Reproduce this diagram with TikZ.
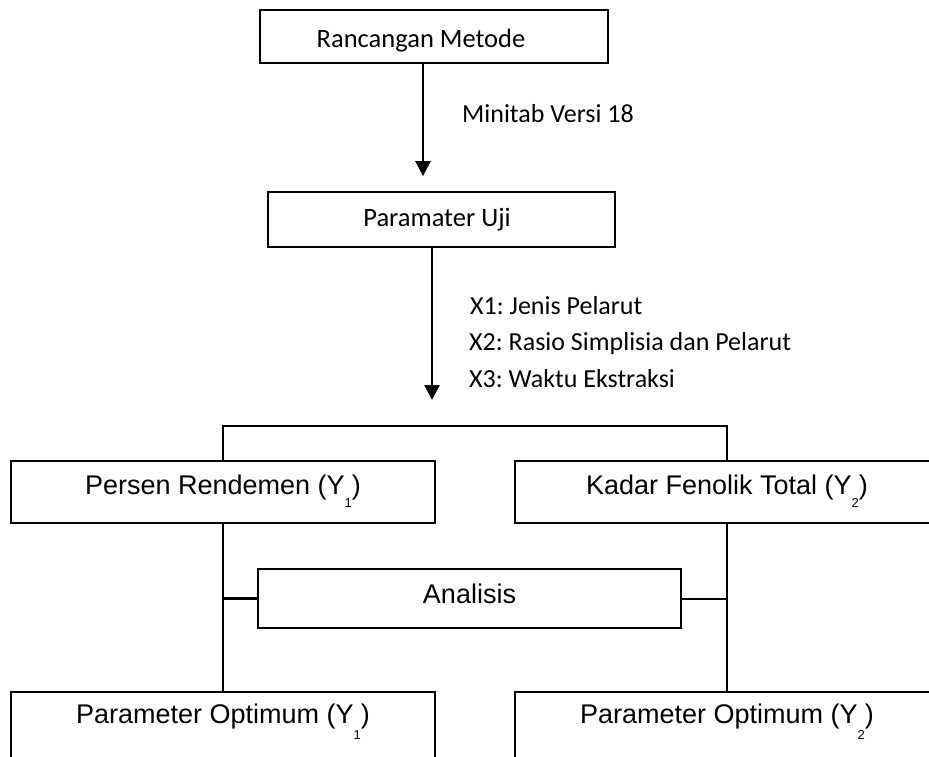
\documentclass[tikz,border=0pt]{standalone}
\usepackage{fontspec}
\setmainfont{Liberation Sans}
\newfontfamily\calibrifont{Carlito}
\usetikzlibrary{arrows.meta}
\frenchspacing
\newcommand{\ysub}[2][13pt]{\raisebox{-#1}{\fontsize{13}{13}\selectfont #2}}
\tikzset{
  boxa/.style={draw, line width=1.8pt, inner sep=0pt, font=\calibrifont\fontsize{26.5}{30}\selectfont},
  boxb/.style={draw, line width=1.8pt, inner sep=0pt, font=\fontsize{27}{30}\selectfont},
  lbl/.style={anchor=base west, inner sep=0pt, font=\calibrifont\fontsize{26}{30}\selectfont},
  arr/.style={line width=2.5pt, -{Triangle[length=15pt,width=15pt]}},
  conn/.style={line width=2pt},
  stub/.style={line width=3pt},
}
\begin{document}
\frenchspacing
\begin{tikzpicture}[x=1pt,y=-1pt]
\useasboundingbox (0,0) rectangle (929,756);
\clip (0,0) rectangle (929,756);

% boxes
\node[boxa, minimum width=348pt, minimum height=53pt, text height=24pt, text depth=3pt] (rm) at (434,36.5) {\hspace*{-26pt}Rancangan Metode};
\node[boxa, minimum width=347pt, minimum height=55pt, text height=18pt, text depth=4pt] (pu) at (441.5,219.5) {\hspace*{-9pt}Paramater Uji};

\node[boxb, minimum width=424pt, minimum height=62pt, text height=20pt, text depth=16pt] (pr) at (223,492) {Persen Rendemen (Y\ysub{1})};
\node[boxb, minimum width=424pt, minimum height=62pt, text height=20pt, text depth=16pt] (kf) at (727,492) {Kadar Fenolik Total (Y\ysub{2})};
\node[boxb, minimum width=423pt, minimum height=59pt, text height=18pt, text depth=9pt] (an) at (469.5,598.5) {Analisis};
\node[boxb, minimum width=424pt, minimum height=80pt, text height=20pt, text depth=38pt] (pb) at (223,732) {Parameter Optimum (Y\ysub[16pt]{1})};
\node[boxb, minimum width=424pt, minimum height=80pt, text height=20pt, text depth=38pt] (kb) at (727,732) {Parameter Optimum (Y\ysub[16pt]{2})};

% labels
\node[lbl] (m18) at (462,122) {Minitab Versi 18};
\node[lbl] (x1) at (470,314) {X1: Jenis Pelarut};
\node[lbl] (x2) at (469,350) {X2: Rasio Simplisia dan Pelarut};
\node[lbl] (x3) at (469,387) {X3: Waktu Ekstraksi};

% arrows
\coordinate (c1) at (423,0);
\coordinate (t2) at (432,400);
\coordinate (br) at (0,426);
\draw[arr] (rm.south -| c1) -- ([yshift=15pt]pu.north -| c1);
\draw[arr] (pu.south -| t2) -- (t2);

% connectors
\draw[conn] (pr.north) -- (pr.north |- br) -- (kf.north |- br) -- (kf.north);
\draw[conn] (pr.south) -- (pb.north);
\draw[conn] (kf.south) -- (kb.north);
\draw[stub] (an.west) -- (an.west -| pr.south);
\draw[conn] (an.east) -- (an.east -| kf.south);
\end{tikzpicture}
\end{document}
